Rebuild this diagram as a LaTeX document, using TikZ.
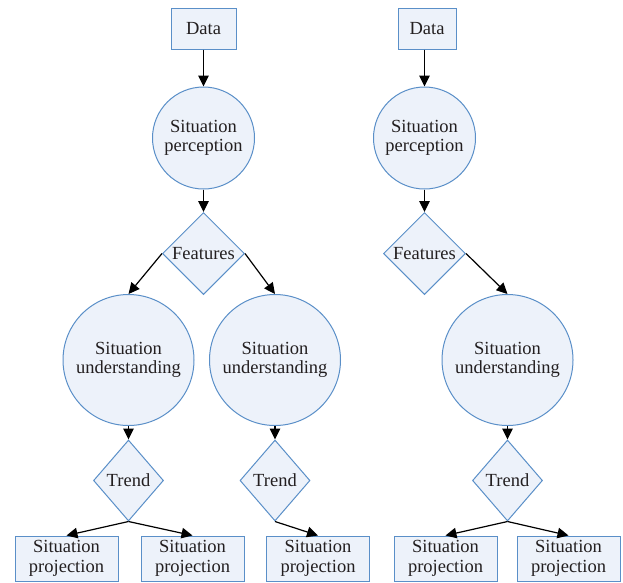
\documentclass[tikz,border=0pt]{standalone}
\usepackage{fontspec}
\setmainfont{Liberation Serif}
\usetikzlibrary{shapes.geometric,arrows.meta}
\definecolor{nfill}{HTML}{EDF2FA}
\definecolor{nline}{HTML}{5A8FC8}
\definecolor{ntext}{HTML}{231F20}
\begin{document}
\begin{tikzpicture}[x=1pt,y=-1pt,
  every node/.style={font=\fontsize{18.5}{19.5}\selectfont, text=ntext, align=center, inner sep=0pt, fill=nfill, draw=nline, line width=1pt},
  boxnode/.style={rectangle, minimum height=41pt},
  projbox/.style={rectangle, minimum width=103pt, minimum height=45pt},
  smallcirc/.style={circle, minimum size=102pt},
  bigcirc/.style={circle, minimum size=131pt},
  featdia/.style={diamond, minimum width=82pt, minimum height=82pt},
  trenddia/.style={diamond, minimum width=70pt, minimum height=81pt},
  arr/.style={-{Triangle[length=11pt,width=10.5pt]}, line width=1.2pt, draw=black}]
\useasboundingbox (0,0) rectangle (623,582);
% left tree
\node[boxnode, minimum width=65pt] (d1) at (203.5,28.5) {Data};
\node[smallcirc] (c1) at (203.5,138) {Situation\\perception};
\node[featdia] (f1) at (203.5,253.5) {Features};
\node[bigcirc] (u1) at (128.5,360) {Situation\\understanding};
\node[bigcirc] (u2) at (275,360) {Situation\\understanding};
\node[trenddia] (t1) at (128.5,480.5) {Trend};
\node[trenddia] (t2) at (275,480.5) {Trend};
\node[projbox] (p1) at (66.5,558.5) {Situation\\projection};
\node[projbox] (p2) at (192.5,558.5) {Situation\\projection};
\node[projbox] (p3) at (318,558.5) {Situation\\projection};
% right tree
\node[boxnode, minimum width=58pt] (d2) at (427,28.5) {Data};
\node[smallcirc] (c2) at (424.5,138) {Situation\\perception};
\node[featdia] (f2) at (424.5,253.5) {Features};
\node[bigcirc] (u3) at (507.5,360) {Situation\\understanding};
\node[trenddia] (t3) at (507.5,480.5) {Trend};
\node[projbox] (p4) at (445.5,558.5) {Situation\\projection};
\node[projbox] (p5) at (568.5,558.5) {Situation\\projection};
% connectors
\draw[arr] (d1) -- (c1);
\draw[arr] (c1) -- (f1);
\draw[arr] (f1.west) -- (u1.north);
\draw[arr] (f1.east) -- (u2.north);
\draw[arr] (u1) -- (t1);
\draw[arr] (u2) -- (t2);
\draw[arr] (t1.south) -- (p1.north);
\draw[arr] (t1.south) -- (p2.north);
\draw[arr] (t2.south) -- (p3.north);
\draw[arr] (d2.south -| c2) -- (c2);
\draw[arr] (c2) -- (f2);
\draw[arr] (f2.east) -- (u3.north);
\draw[arr] (u3) -- (t3);
\draw[arr] (t3.south) -- (p4.north);
\draw[arr] (t3.south) -- (p5.north);
\end{tikzpicture}
\end{document}
